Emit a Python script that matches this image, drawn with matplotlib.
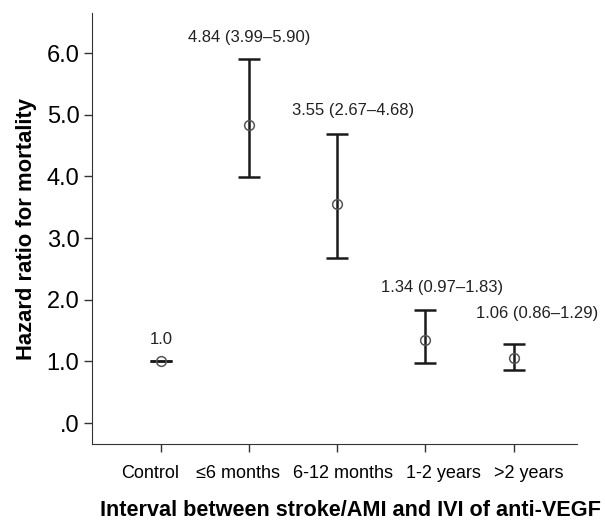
import matplotlib.pyplot as plt
from matplotlib.transforms import ScaledTranslation

plt.rcParams['font.family'] = ['Liberation Sans', 'DejaVu Sans']

groups = ['Control', '≤6 months', '6-12 months', '1-2 years', '>2 years']
hr = [1.0, 4.84, 3.55, 1.34, 1.06]
ci_low = [1.0, 3.99, 2.67, 0.97, 0.86]
ci_high = [1.0, 5.90, 4.68, 1.83, 1.29]
labels = ['1.0', '4.84 (3.99–5.90)', '3.55 (2.67–4.68)',
          '1.34 (0.97–1.83)', '1.06 (0.86–1.29)']
yticks = [0, 1, 2, 3, 4, 5, 6]
yticklabels = ['.0', '1.0', '2.0', '3.0', '4.0', '5.0', '6.0']

fig = plt.figure(figsize=(6.05, 5.2), dpi=100)
ax = fig.add_axes([0.152, 0.146, 0.802, 0.829])

x = list(range(len(groups)))
err = [[h - lo for h, lo in zip(hr, ci_low)], [hi - h for h, hi in zip(hr, ci_high)]]
ax.errorbar(x, hr, yerr=err, fmt='none', ecolor='#1a1a1a', elinewidth=1.8,
            capsize=8, capthick=1.8)
ax.plot(x, hr, 'o', mfc='none', mec='#555555', ms=7, mew=1.1)

# label offsets (x shift, height above upper CI)
dx = [0, 0, 0.18, 0.19, 0.27]
dy = [0.35, 0.36, 0.39, 0.37, 0.49]
for i in x:
    ax.text(i + dx[i], ci_high[i] + dy[i], labels[i], ha='center', va='center',
            fontsize=12, color='#222222')

ax.set_xlim(-0.78, 4.72)
ax.set_ylim(-0.34, 6.65)
ax.set_xticks(x)
ax.set_xticklabels(groups, fontsize=13)
ax.set_yticks(yticks)
ax.set_yticklabels(yticklabels, fontsize=17)
ax.tick_params(axis='both', length=6, width=1, color='#333333', pad=3)
ax.tick_params(axis='x', pad=9)

# the original's category labels are not centred on their ticks
shift_px = [-11, -11, 6, 18, 15]
for lab, s in zip(ax.get_xticklabels(), shift_px):
    lab.set_transform(lab.get_transform() + ScaledTranslation(s / 100, 0, fig.dpi_scale_trans))

for s in ['top', 'right']:
    ax.spines[s].set_visible(False)
for s in ['left', 'bottom']:
    ax.spines[s].set_color('#333333')

ax.set_ylabel('Hazard ratio for mortality', fontsize=15.8, fontweight='bold', labelpad=7)
fig.text(0.58, 0.018, 'Interval between stroke/AMI and IVI of anti-VEGF',
         fontsize=15.6, fontweight='bold', ha='center', va='center')

fig.savefig('out.png', dpi=100)
